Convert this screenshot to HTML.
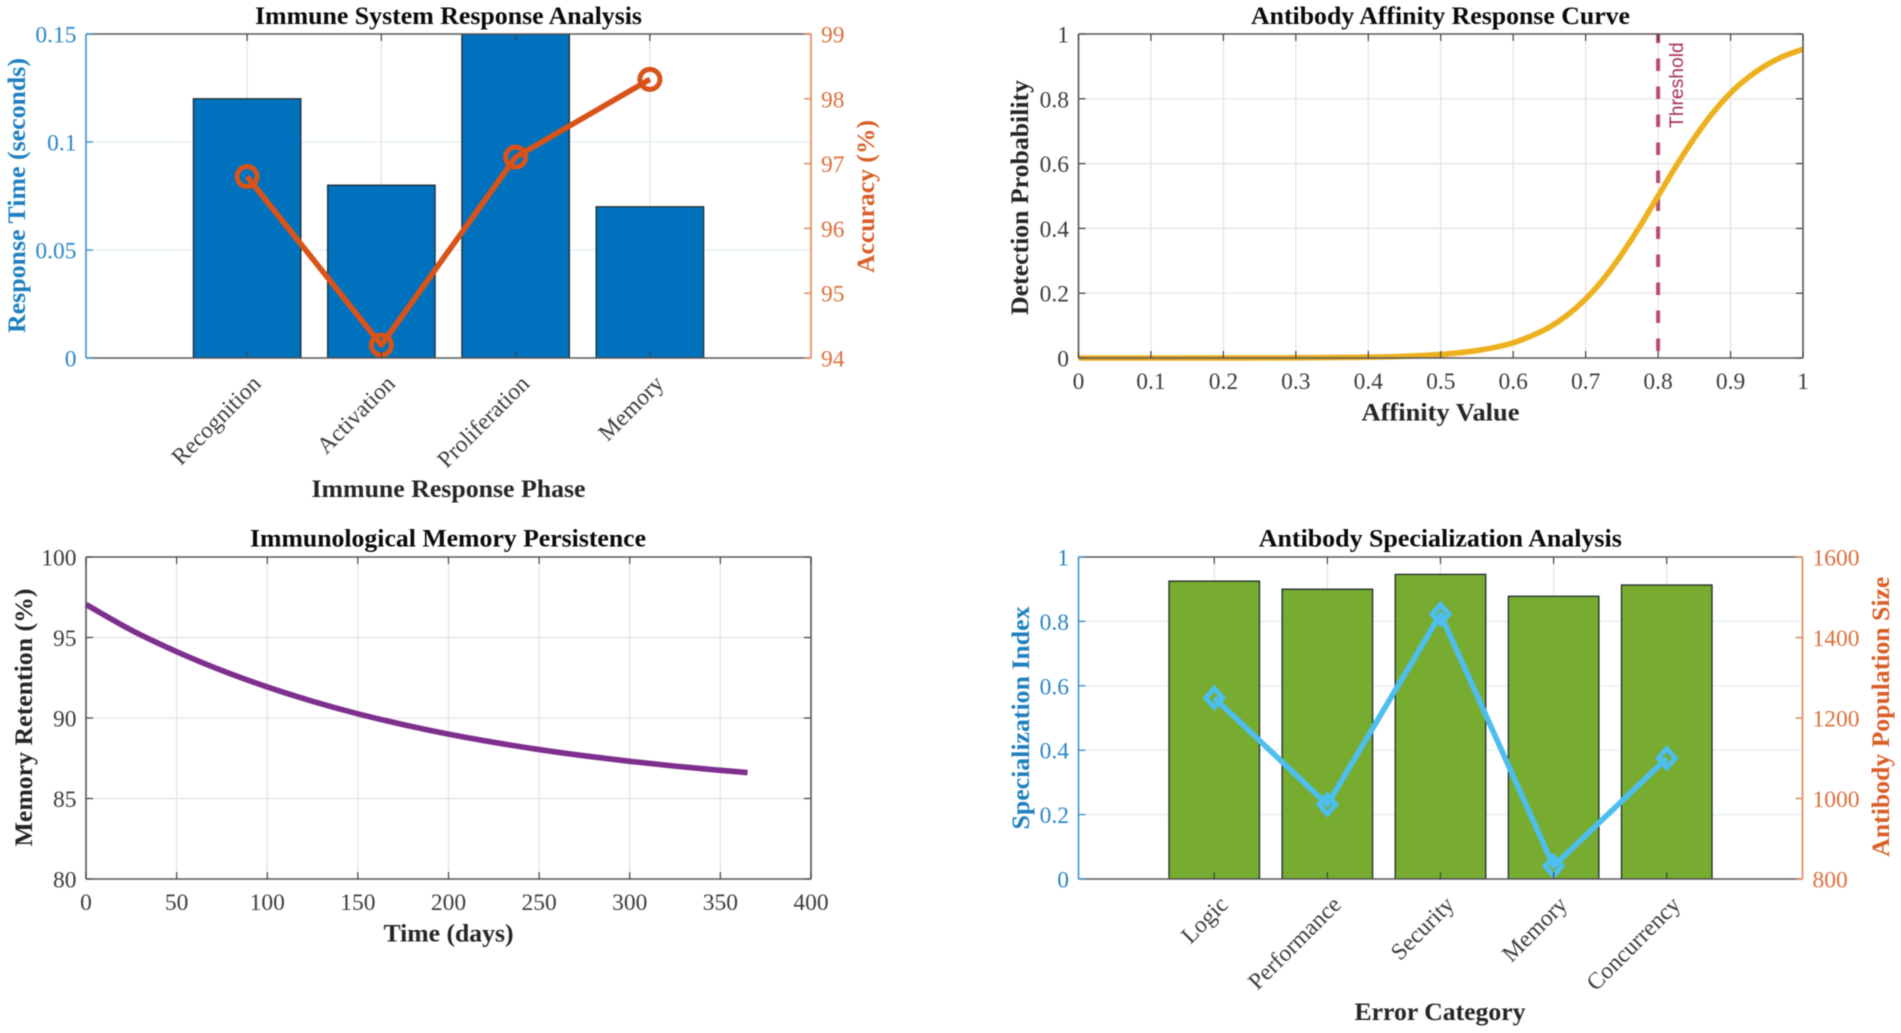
<!DOCTYPE html>
<html lang="en">
<head>
<meta charset="utf-8">
<title>Immune System Analysis</title>
<style>
html,body{margin:0;padding:0;background:#fff;width:1901px;height:1033px;overflow:hidden}
svg{display:block;filter:blur(0.45px)}
text{font-family:"Liberation Serif",serif}
.title{font-size:25px;font-weight:bold;fill:#0a0a0a;text-anchor:middle}
.label{font-size:25px;font-weight:bold;fill:#262626;text-anchor:middle}
.tick{font-size:23.5px;fill:#3c3c3c}
</style>
</head>
<body>
<svg id="figure" xmlns="http://www.w3.org/2000/svg" width="1901" height="1033" viewBox="0 0 1901 1033">
  <rect width="1901" height="1033" fill="#fff"/>
  <defs>
    <clipPath id="clip-a"><rect x="86" y="34" width="725" height="324"/></clipPath>
    <clipPath id="clip-d"><rect x="1078" y="557" width="725" height="322"/></clipPath>
  </defs>
  <g id="panel-a"></g>
  <g id="panel-b"></g>
  <g id="panel-c"></g>
  <g id="panel-d"></g>

  <text class="title" x="448.5" y="24" textLength="387" lengthAdjust="spacingAndGlyphs">Immune System Response Analysis</text>
  <text class="label" x="448.5" y="497" textLength="274" lengthAdjust="spacingAndGlyphs">Immune Response Phase</text>
  <text class="label" transform="translate(25,195.5) rotate(-90)" style="fill:#1f80c0" textLength="275" lengthAdjust="spacingAndGlyphs">Response Time (seconds)</text>
  <text class="label" transform="translate(874,196.5) rotate(-90)" style="fill:#d95f28" textLength="153" lengthAdjust="spacingAndGlyphs">Accuracy (%)</text>

  <text class="title" x="1440.5" y="24" textLength="379" lengthAdjust="spacingAndGlyphs">Antibody Affinity Response Curve</text>
  <text class="label" x="1440.5" y="420.5" textLength="158" lengthAdjust="spacingAndGlyphs">Affinity Value</text>
  <text class="label" transform="translate(1028,197.5) rotate(-90)" textLength="235" lengthAdjust="spacingAndGlyphs">Detection Probability</text>
  <text transform="translate(1683,128) rotate(-90)" style="font-family:'Liberation Sans',sans-serif;font-size:19.3px;fill:#a8305a">Threshold</text>

  <text class="title" x="448" y="546.7" textLength="396" lengthAdjust="spacingAndGlyphs">Immunological Memory Persistence</text>
  <text class="label" x="448.5" y="941.7" textLength="130" lengthAdjust="spacingAndGlyphs">Time (days)</text>
  <text class="label" transform="translate(32,717.5) rotate(-90)" textLength="258" lengthAdjust="spacingAndGlyphs">Memory Retention (%)</text>

  <text class="title" x="1440.3" y="546.7" textLength="363" lengthAdjust="spacingAndGlyphs">Antibody Specialization Analysis</text>
  <text class="label" x="1440" y="1020" textLength="171" lengthAdjust="spacingAndGlyphs">Error Category</text>
  <text class="label" transform="translate(1029,718) rotate(-90)" style="fill:#1f80c0" textLength="223" lengthAdjust="spacingAndGlyphs">Specialization Index</text>
  <text class="label" transform="translate(1889,716.7) rotate(-90)" style="fill:#d95f28" textLength="280" lengthAdjust="spacingAndGlyphs">Antibody Population Size</text>
</svg>
<script>
// ---- Panel A data
const phaseCategories = ['Recognition', 'Activation', 'Proliferation', 'Memory'];
const responseTimes = [0.12, 0.08, 0.15, 0.07];
const accuracyValues = [96.8, 94.2, 97.1, 98.3];
const responseTicks = [0, 0.05, 0.1, 0.15];
const accuracyTicks = [94, 95, 96, 97, 98, 99];

// ---- Panel B data
const affinityValues = [0, 0.1, 0.2, 0.3, 0.4, 0.45, 0.5, 0.525, 0.55, 0.575, 0.6, 0.625, 0.65, 0.675, 0.7, 0.725, 0.75, 0.775, 0.8, 0.825, 0.85, 0.875, 0.9, 0.925, 0.95, 0.975, 1];
const detectionValues = [0, 0, 0.0001, 0.0006, 0.0025, 0.0052, 0.011, 0.016, 0.023, 0.033, 0.047, 0.068, 0.095, 0.133, 0.182, 0.245, 0.321, 0.407, 0.5, 0.593, 0.679, 0.755, 0.818, 0.867, 0.905, 0.933, 0.953];
const thresholdValue = [0.8];
const affinityTicks = [0, 0.1, 0.2, 0.3, 0.4, 0.5, 0.6, 0.7, 0.8, 0.9, 1];
const detectionTicks = [0, 0.2, 0.4, 0.6, 0.8, 1];

// ---- Panel C data
const dayValues = [0, 25, 50, 75, 100, 125, 150, 175, 200, 225, 250, 275, 300, 325, 350, 365];
const retentionValues = [97.05, 95.46, 94.12, 92.95, 91.93, 91.04, 90.26, 89.59, 89.0, 88.49, 88.04, 87.65, 87.31, 87.01, 86.75, 86.61];
const dayTicks = [0, 50, 100, 150, 200, 250, 300, 350, 400];
const retentionTicks = [80, 85, 90, 95, 100];

// ---- Panel D data
const errorCategories = ['Logic', 'Performance', 'Security', 'Memory', 'Concurrency'];
const specializationValues = [0.925, 0.9, 0.946, 0.878, 0.913];
const populationValues = [1250, 985, 1458, 832, 1100];
const specializationTicks = [0, 0.2, 0.4, 0.6, 0.8, 1];
const populationTicks = [800, 1000, 1200, 1400, 1600];

const NS = 'http://www.w3.org/2000/svg';
const BOX = '#585858', GRID = '#e2e2e2', BLUEGRID = '#e1edf6';
const BLUE = '#3f93cb', ORANGE = '#e08457';

function linear(d0, d1, r0, r1) {
  return function (v) { return r0 + (v - d0) / (d1 - d0) * (r1 - r0); };
}
function make(parent, tag, name) {
  const el = document.createElementNS(NS, tag);
  
  
  parent.appendChild(el);
  return el;
}
function seg(parent, name, x1, y1, x2, y2, color, width) {
  const el = make(parent, 'line', name);
  el.setAttribute('x1', x1);
  el.setAttribute('y1', y1);
  el.setAttribute('x2', x2);
  el.setAttribute('y2', y2);
  el.setAttribute('stroke', color);
  el.setAttribute('stroke-width', width);
  return el;
}
function label(parent, name, x, y, str, anchor, color, rotate) {
  const el = make(parent, 'text', name);
  el.setAttribute('class', 'tick');
  el.setAttribute('text-anchor', anchor);
  if (rotate) {
    el.setAttribute('transform', 'translate(' + x + ',' + y + ') rotate(' + rotate + ')');
  } else {
    el.setAttribute('x', x);
    el.setAttribute('y', y);
  }
  el.style.fill = color;
  el.textContent = str;
  return el;
}
function polyline(parent, name, xs, ys, sx, sy, color, width) {
  const el = make(parent, 'polyline', name);
  el.setAttribute('points', xs.map(function (x, i) { return sx(x).toFixed(2) + ',' + sy(ys[i]).toFixed(2); }).join(' '));
  el.setAttribute('fill', 'none');
  el.setAttribute('stroke', color);
  el.setAttribute('stroke-width', width);
  el.setAttribute('stroke-linejoin', 'round');
  return el;
}
function smoothCurve(parent, name, xs, ys, sx, sy, color, width) {
  const px = xs.map(sx);
  const py = ys.map(sy);
  let d = 'M' + px[0].toFixed(2) + ' ' + py[0].toFixed(2);
  for (let i = 0; i < px.length - 1; i++) {
    const a = Math.max(i - 1, 0), b = Math.min(i + 2, px.length - 1);
    const h = px[i + 1] - px[i];
    const m0 = (py[i + 1] - py[a]) / (px[i + 1] - px[a]);
    const m1 = (py[b] - py[i]) / (px[b] - px[i]);
    d += 'C' + (px[i] + h / 3).toFixed(2) + ' ' + (py[i] + m0 * h / 3).toFixed(2) + ' ' +
         (px[i + 1] - h / 3).toFixed(2) + ' ' + (py[i + 1] - m1 * h / 3).toFixed(2) + ' ' +
         px[i + 1].toFixed(2) + ' ' + py[i + 1].toFixed(2);
  }
  const el = make(parent, 'path', name);
  el.setAttribute('d', d);
  el.setAttribute('fill', 'none');
  el.setAttribute('stroke', color);
  el.setAttribute('stroke-width', width);
  return el;
}
function verticalGrid(g, ticks, sx, box) {
  ticks.forEach(function (t) {
    seg(g, 'vertical-gridline', sx(t), box.top, sx(t), box.bottom, GRID, 1.2);
  });
}
function horizontalGrid(g, ticks, sy, box, color) {
  ticks.forEach(function (t) {
    seg(g, 'horizontal-gridline', box.left, sy(t), box.right, sy(t), color, 1.2);
  });
}
function frame(g, box, leftColor, rightColor) {
  seg(g, 'top-axis-line', box.left, box.top, box.right, box.top, BOX, 1.6);
  seg(g, 'bottom-axis-line', box.left, box.bottom, box.right, box.bottom, BOX, 1.6);
  seg(g, 'left-axis-line', box.left, box.top, box.left, box.bottom, leftColor, 1.6);
  seg(g, 'right-axis-line', box.right, box.top, box.right, box.bottom, rightColor, 1.6);
}
function xTicks(g, ticks, labels, sx, box) {
  ticks.forEach(function (t, i) {
    const x = sx(t);
    seg(g, 'x-tick-bottom', x, box.bottom, x, box.bottom - 7, '#444', 1.2);
    seg(g, 'x-tick-top', x, box.top, x, box.top + 7, '#444', 1.2);
    if (labels) {
      label(g, 'x-tick-label', x, box.bottom + 31, labels[i], 'middle', '#3c3c3c');
    }
  });
}
function slantedLabels(g, ticks, labels, sx, box) {
  ticks.forEach(function (t, i) {
    label(g, 'category-label', sx(t) + 15, box.bottom + 27, labels[i], 'end', '#3c3c3c', -45);
  });
}
function leftTicks(g, ticks, sy, box, color, textColor) {
  ticks.forEach(function (t) {
    const y = sy(t);
    seg(g, 'left-tick', box.left, y, box.left + 7, y, color, 1.4);
    label(g, 'left-tick-label', box.left - 9.5, y + 8.5, String(t), 'end', textColor);
  });
}
function rightTicks(g, ticks, sy, box, color, textColor) {
  ticks.forEach(function (t) {
    const y = sy(t);
    seg(g, 'right-tick', box.right, y, box.right - 7, y, color, 1.4);
    if (textColor) {
      label(g, 'right-tick-label', box.right + 10, y + 8.5, String(t), 'start', textColor);
    }
  });
}
function bars(g, cats, vals, sx, sy, fill, clipId) {
  const holder = make(g, 'g', 'bar-group');
  holder.setAttribute('clip-path', 'url(#' + clipId + ')');
  const half = (sx(1) - sx(0)) * 0.4;
  cats.forEach(function (c, i) {
    const x = sx(i + 1);
    const el = make(holder, 'rect', 'bar-' + c.toLowerCase());
    el.setAttribute('x', x - half);
    el.setAttribute('y', sy(vals[i]));
    el.setAttribute('width', half * 2);
    el.setAttribute('height', sy(0) - sy(vals[i]));
    el.setAttribute('fill', fill);
    el.setAttribute('stroke', '#1f2a2e');
    el.setAttribute('stroke-width', 1.3);
  });
}
function seq(n) {
  return Array.from({ length: n }, function (_, i) { return i + 1; });
}

// ---- Panel A
(function () {
  const box = { left: 86, right: 811, top: 34, bottom: 358 };
  const g = document.getElementById('panel-a');
  const sx = linear(-0.2, 5.2, box.left, box.right);
  const syL = linear(0, 0.15, box.bottom, box.top);
  const syR = linear(94, 99, box.bottom, box.top);
  const idx = seq(phaseCategories.length);
  verticalGrid(g, idx, sx, box);
  horizontalGrid(g, responseTicks, syL, box, BLUEGRID);
  bars(g, phaseCategories, responseTimes, sx, syL, '#0072BD', 'clip-a');
  polyline(g, 'accuracy-line', idx, accuracyValues, sx, syR, '#D95319', 5.6);
  accuracyValues.forEach(function (v, i) {
    const el = make(g, 'circle', 'accuracy-point');
    el.setAttribute('cx', sx(i + 1));
    el.setAttribute('cy', syR(v));
    el.setAttribute('r', 10);
    el.setAttribute('fill', 'none');
    el.setAttribute('stroke', '#D95319');
    el.setAttribute('stroke-width', 5);
  });
  frame(g, box, BLUE, ORANGE);
  xTicks(g, idx, null, sx, box);
  slantedLabels(g, idx, phaseCategories, sx, box);
  leftTicks(g, responseTicks, syL, box, BLUE, '#2a86c4');
  rightTicks(g, accuracyTicks, syR, box, ORANGE, '#dc6f3d');
})();

// ---- Panel B
(function () {
  const box = { left: 1078.5, right: 1803, top: 34, bottom: 358 };
  const g = document.getElementById('panel-b');
  const sx = linear(0, 1, box.left, box.right);
  const sy = linear(0, 1, box.bottom, box.top);
  verticalGrid(g, affinityTicks, sx, box);
  horizontalGrid(g, detectionTicks, sy, box, GRID);
  const th = seg(g, 'threshold-line', sx(thresholdValue[0]), box.top, sx(thresholdValue[0]), box.bottom, '#bd4a70', 4);
  th.setAttribute('stroke-dasharray', '12.5 15.5');
  th.setAttribute('stroke-dashoffset', '3.5');
  smoothCurve(g, 'detection-curve', affinityValues, detectionValues, sx, sy, '#EDB120', 5.6);
  frame(g, box, BOX, BOX);
  xTicks(g, affinityTicks, affinityTicks.map(String), sx, box);
  leftTicks(g, detectionTicks, sy, box, '#555', '#3c3c3c');
  rightTicks(g, detectionTicks, sy, box, '#555', null);
})();

// ---- Panel C
(function () {
  const box = { left: 86, right: 811, top: 557, bottom: 879 };
  const g = document.getElementById('panel-c');
  const sx = linear(0, 400, box.left, box.right);
  const sy = linear(80, 100, box.bottom, box.top);
  verticalGrid(g, dayTicks, sx, box);
  horizontalGrid(g, retentionTicks, sy, box, GRID);
  smoothCurve(g, 'memory-retention-curve', dayValues, retentionValues, sx, sy, '#7E2F8E', 5.6);
  frame(g, box, BOX, BOX);
  xTicks(g, dayTicks, dayTicks.map(String), sx, box);
  leftTicks(g, retentionTicks, sy, box, '#555', '#3c3c3c');
  rightTicks(g, retentionTicks, sy, box, '#555', null);
})();

// ---- Panel D
(function () {
  const box = { left: 1078.5, right: 1802.5, top: 557, bottom: 879 };
  const g = document.getElementById('panel-d');
  const sx = linear(-0.2, 6.2, box.left, box.right);
  const syL = linear(0, 1, box.bottom, box.top);
  const syR = linear(800, 1600, box.bottom, box.top);
  const idx = seq(errorCategories.length);
  verticalGrid(g, idx, sx, box);
  horizontalGrid(g, specializationTicks, syL, box, BLUEGRID);
  bars(g, errorCategories, specializationValues, sx, syL, '#77AC30', 'clip-d');
  polyline(g, 'population-line', idx, populationValues, sx, syR, '#4DBEEE', 5.6);
  populationValues.forEach(function (v, i) {
    const el = make(g, 'polygon', 'population-point');
    const cx = sx(i + 1), cy = syR(v), h = 9.5, w = 8.5;
    el.setAttribute('points', [cx, cy - h, cx + w, cy, cx, cy + h, cx - w, cy].join(' '));
    el.setAttribute('fill', 'none');
    el.setAttribute('stroke', '#4DBEEE');
    el.setAttribute('stroke-width', 5);
  });
  frame(g, box, BLUE, ORANGE);
  xTicks(g, idx, null, sx, box);
  slantedLabels(g, idx, errorCategories, sx, box);
  leftTicks(g, specializationTicks, syL, box, BLUE, '#2a86c4');
  rightTicks(g, populationTicks, syR, box, ORANGE, '#dc6f3d');
})();
</script>
</body>
</html>
